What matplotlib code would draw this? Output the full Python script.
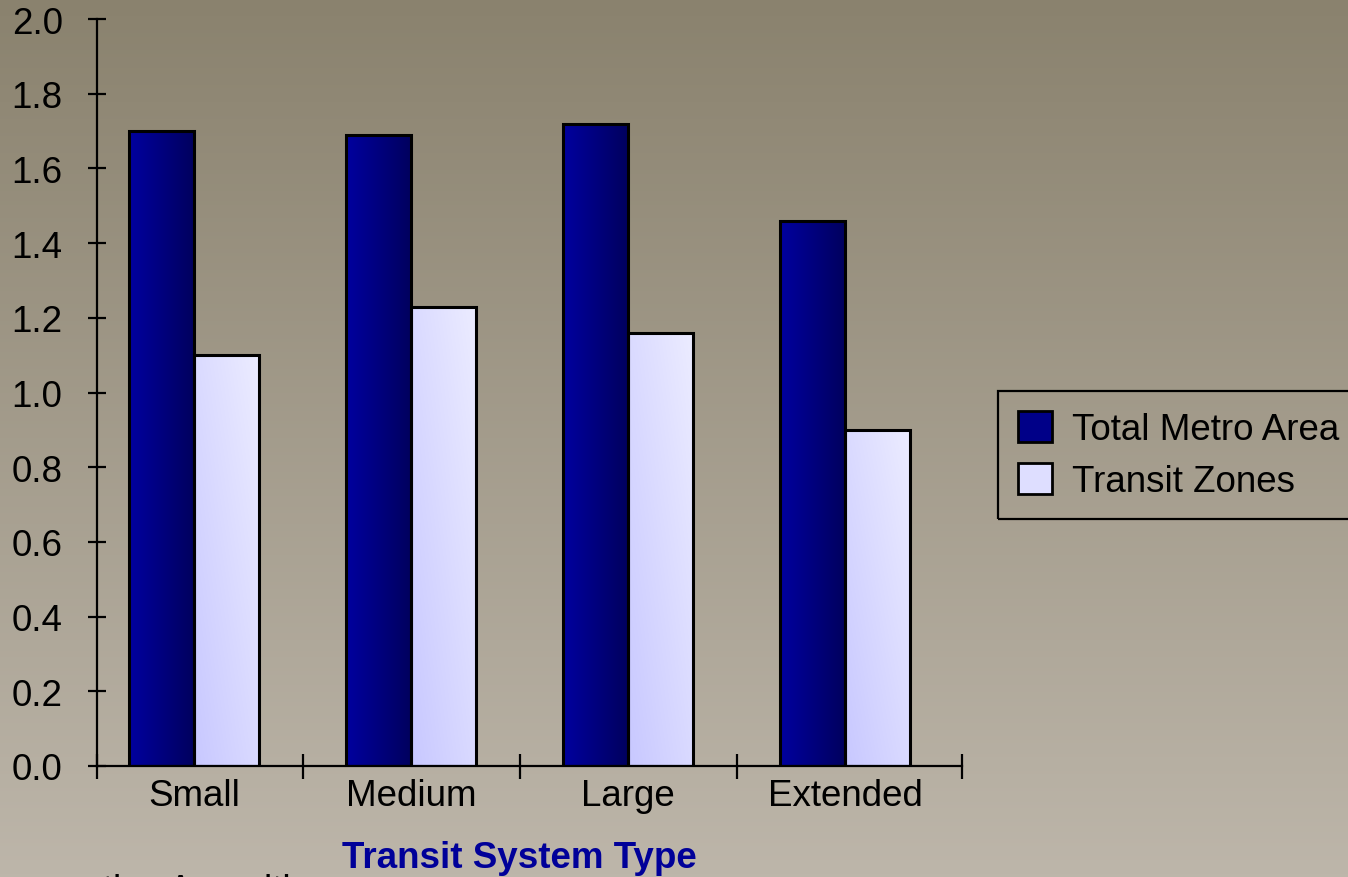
import numpy as np
import matplotlib
matplotlib.use("Agg")
import matplotlib.pyplot as plt
from matplotlib.patches import Patch
from matplotlib.colors import LinearSegmentedColormap

plt.rcParams['font.family'] = ['Liberation Sans', 'DejaVu Sans']

categories = ["Small", "Medium", "Large", "Extended"]
total_metro = [1.70, 1.69, 1.72, 1.46]
transit_zones = [1.10, 1.23, 1.16, 0.90]
series_names = ["Total Metro Area", "Transit Zones"]
yticks = [0.0, 0.2, 0.4, 0.6, 0.8, 1.0, 1.2, 1.4, 1.6, 1.8, 2.0]

W, H = 1348, 878
FS = 26.5
fig = plt.figure(figsize=(W / 100, H / 100), dpi=100)

# background gradient
bg = fig.add_axes([0, 0, 1, 1], zorder=-10)
bg_cmap = LinearSegmentedColormap.from_list("bg", ["#8a826e", "#bdb6aa"])
bg.imshow(np.linspace(0, 1, 256).reshape(-1, 1), aspect='auto', cmap=bg_cmap,
          extent=[0, 1, 0, 1], origin='upper')
bg.set_axis_off()

ax = fig.add_axes([97 / W, 1 - 767 / H, (962 - 97) / W, (767 - 20) / H])
ax.patch.set_alpha(0)

x = np.arange(len(categories))
bw = 0.30
dark_cmap = LinearSegmentedColormap.from_list("dk", ["#00009e", "#00005e"])
light_cmap = LinearSegmentedColormap.from_list("lt", ["#c8c8ff", "#ececff"])

bars1 = ax.bar(x - bw / 2, total_metro, bw, facecolor='none', edgecolor='black',
               linewidth=2.2, zorder=3)
bars2 = ax.bar(x + bw / 2, transit_zones, bw, facecolor='none', edgecolor='black',
               linewidth=2.2, zorder=3)

gx = np.linspace(0, 1, 64)
horiz = np.tile(gx, (2, 1))

for b in bars1:
    x0, y0 = b.get_x(), b.get_y()
    im = ax.imshow(horiz, cmap=dark_cmap, aspect='auto', zorder=2,
                   extent=[x0, x0 + b.get_width(), y0, y0 + b.get_height()],
                   interpolation='bilinear')
    im.set_clip_path(b)
for b in bars2:
    x0, y0 = b.get_x(), b.get_y()
    d = (gx[None, :] + np.linspace(1, 0, 64)[:, None]) / 2.0
    im = ax.imshow(d, cmap=light_cmap, aspect='auto', zorder=2, origin='upper',
                   extent=[x0, x0 + b.get_width(), y0, y0 + b.get_height()],
                   interpolation='bilinear')
    im.set_clip_path(b)

ax.set_xlim(-0.447, 3.539)
ax.set_ylim(0, 2.0)

for s in ['top', 'right']:
    ax.spines[s].set_visible(False)
for s in ['left', 'bottom']:
    ax.spines[s].set_linewidth(1.6)
    ax.spines[s].set_color('black')

ax.set_yticks(yticks)
ax.set_yticklabels([f"{v:.1f}" for v in yticks], fontsize=FS)
ax.tick_params(axis='y', direction='inout', length=13.5, width=1.6, pad=18)

ax.set_xticks(x)
ax.set_xticklabels(categories, fontsize=FS)
ax.tick_params(axis='x', which='major', length=0, pad=9)
ax.set_xticks([-0.447, 0.5, 1.5, 2.5, 3.539], minor=True)
ax.tick_params(axis='x', which='minor', direction='inout', length=18, width=1.6)

fig.text(519 / W, 1 - 868 / H, "Transit System Type", fontsize=26.5,
         fontweight='bold', color='#000099', ha='center', va='baseline')

fig.text(-48 / W, 1 - 901 / H, "Comparative Amenities", fontsize=FS,
         color='black', ha='left', va='baseline')

handles = [Patch(facecolor='#000088', edgecolor='black', linewidth=2),
           Patch(facecolor='#dedeff', edgecolor='black', linewidth=2)]
leg = fig.legend(handles, series_names, loc='upper left',
                 bbox_to_anchor=(998 / W, 1 - 392 / H), fontsize=FS,
                 handlelength=0.92, handleheight=0.92, handletextpad=0.55,
                 labelspacing=0.42, borderpad=0.55, borderaxespad=0,
                 fancybox=False, framealpha=1, edgecolor='black')
leg.get_frame().set_linewidth(1.6)
leg.get_frame().set_facecolor('none')

fig.savefig("out.png", dpi=100)
